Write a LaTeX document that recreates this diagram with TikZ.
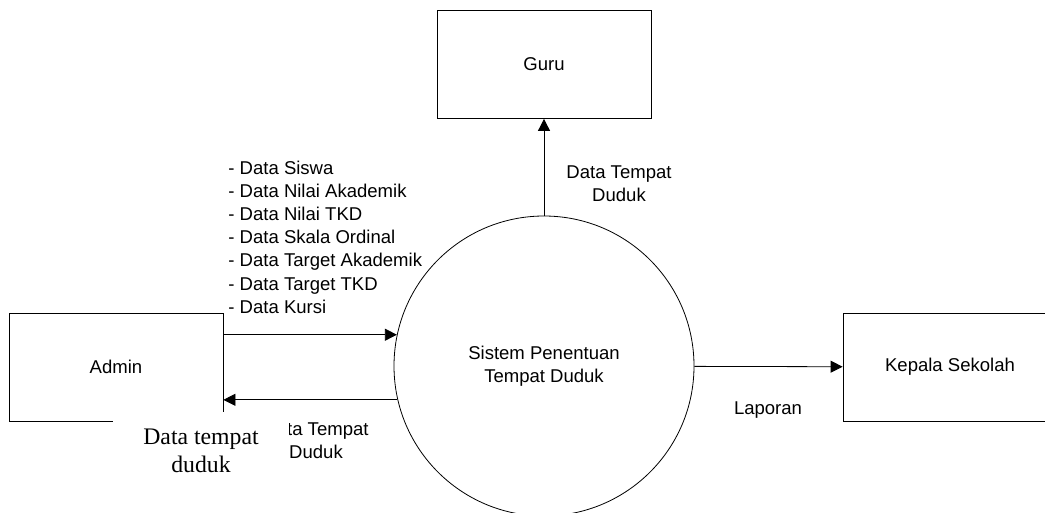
\documentclass[tikz,border=0pt]{standalone}
\usepackage{fontspec}
\setmainfont{Liberation Sans}
\newfontfamily\timesfont{Liberation Serif}
\usetikzlibrary{positioning,arrows.meta}

\begin{document}
\begin{tikzpicture}[x=0.75pt,y=-0.75pt,line width=0.6pt,
	every node/.style={font=\fontsize{13.9}{17.4}\selectfont},
	entity/.style={draw,rectangle,minimum width=160.5pt,minimum height=81pt,inner sep=0pt},
	process/.style={draw,circle,minimum size=225pt,inner sep=0pt,align=center},
	flow/.style={-{Triangle[length=9pt,width=9pt]}},
	lbl/.style={align=center,inner sep=0pt}]

\useasboundingbox (0,0) rectangle (1045,513);
\clip (0,0) rectangle (1045,513);
%\draw[color=black!30](0,0)grid[step=50](1045,513);

\node[entity] (guru) at (544,64.5) {Guru};
\node[entity] (admin) at (116,367) {Admin};
\node[entity] (kepsek) at (950,367) {Kepala Sekolah};
\node[process] (sistem) at (544,366) {Sistem Penentuan\\Tempat Duduk};

\draw[flow] (sistem) -- (guru);
\draw[flow] (sistem.168 -| admin.east) -- (sistem.168);
\draw[flow] (sistem.193) -- (sistem.193 -| admin.east);
\draw[flow] (sistem) -- (kepsek);

\node[lbl,align=left,anchor=west] (input) at (228,237) {- Data Siswa\\- Data Nilai Akademik\\- Data Nilai TKD\\- Data Skala Ordinal\\- Data Target Akademik\\- Data Target TKD\\- Data Kursi};
\node[lbl] (keguru) at (619,184) {Data Tempat\\Duduk};
\node[lbl] (laporan) at (768,410) {Laporan};
\node[lbl] (keadmin) at (316,441) {Data Tempat\\Duduk};

% catatan dengan latar putih
\node[lbl,fill=white,minimum width=132pt,minimum height=58.5pt,
	font=\timesfont\fontsize{17.8}{20.5}\selectfont] (catatan) at (201,451) {Data tempat\\duduk};

\end{tikzpicture}
\end{document}
